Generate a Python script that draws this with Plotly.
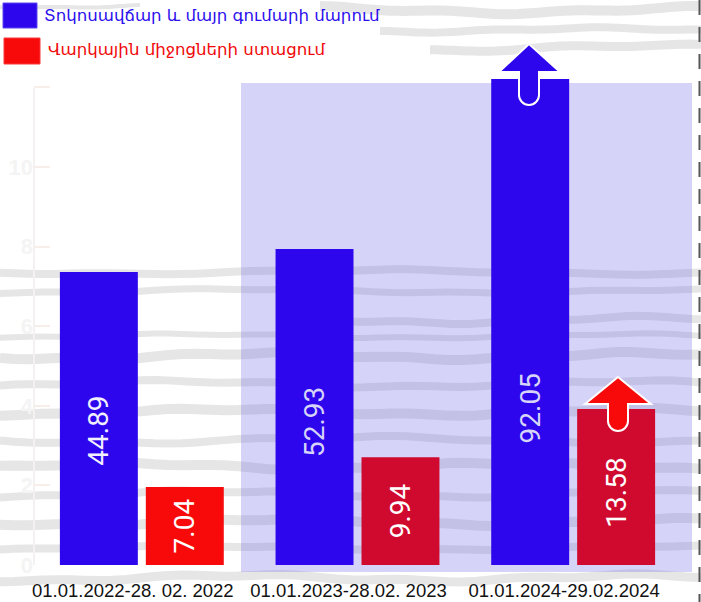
import math
import plotly.graph_objects as go

# ---------------- data ----------------
periods = ["01.01.2022-28. 02. 2022", "01.01.2023-28.02. 2023", "01.01.2024-29.02.2024"]
repayment_values = [44.89, 52.93, 92.05]          # Տոկոսավճար և մայր գումարի մարում
received_values = [7.04, 9.94, 13.58]             # Վարկային միջոցների ստացում
repayment_heights = [7.36, 7.94, 12.21]           # bar heights as drawn (background axis units)
received_heights = [1.96, 2.71, 3.92]
axis_ticks = [0, 2, 4, 6, 8, 10, 12]
axis_ticktext = ["0", "2", "4", "6", "8", "10", ""]
legend_names = ["Տոկոսավճար և մայր գումարի մարում", "Վարկային միջոցների ստացում"]

# ---------------- layout helpers ----------------
W, H = 701, 602
L, R, T, B = 34, 681, 60, 565
PX_PER_UNIT = 39.8
YMAX = (B - T) / PX_PER_UNIT

def fx(x):
    return (x - L) / (R - L)

def fy(y):
    return (B - y) / (B - T)

BLUE = "#2D06EE"
RED = "#F80A0A"
CRIMSON = "#D0092F"
BARGAP = 0.203
BARGROUPGAP = 0.093
OFF = (1 - BARGAP) / 4

fig = go.Figure()
fig.add_bar(x=periods, y=repayment_heights, marker_color=BLUE, marker_line_width=0,
            showlegend=False, hoverinfo="skip")
fig.add_bar(x=periods, y=received_heights, marker_color=[RED, CRIMSON, CRIMSON],
            marker_line_width=0, showlegend=False, hoverinfo="skip")

shapes = []

# background texture (light grey streaks)
def band(y0, x0, x1, amp, period, phase, width, color="#e6e6e6"):
    pts = []
    n = 50
    for i in range(n + 1):
        x = x0 + (x1 - x0) * i / n
        y = y0 + amp * math.sin(2 * math.pi * x / period + phase) \
            + amp * 0.4 * math.sin(2 * math.pi * x / (period * 0.29) + phase * 1.7)
        pts.append((fx(x), fy(y)))
    path = "M " + " L ".join(f"{a:.4f},{b:.4f}" for a, b in pts)
    return dict(type="path", xref="paper", yref="paper", path=path, layer="below",
                line=dict(color=color, width=width))

bands = [
    (10, 320, 701, 3, 420, 0.3, 10), (30, 380, 701, 2, 380, 1.1, 8), (48, 430, 701, 3, 460, 2.0, 9),
    (6, 0, 140, 1.5, 300, 0.5, 4),
    (272, 0, 701, 2, 520, 0.2, 8), (291, 0, 701, 2, 470, 1.4, 7),
    (320, 300, 701, 3, 400, 0.9, 8), (336, 0, 701, 2, 430, 1.9, 6),
    (356, 0, 701, 3, 380, 0.4, 10), (384, 0, 701, 3, 450, 2.3, 8),
    (412, 0, 701, 3, 410, 1.2, 10), (440, 0, 701, 3, 500, 0.1, 8),
    (466, 0, 701, 3, 390, 2.8, 10), (494, 0, 701, 3, 440, 1.6, 8),
    (522, 0, 701, 3, 420, 0.6, 10), (548, 0, 701, 2, 480, 2.1, 8),
    (578, 0, 701, 3, 400, 1.0, 9),
]
for b in bands:
    shapes.append(band(*b))

# lavender highlight panel
shapes.append(dict(type="rect", xref="paper", yref="paper", layer="below",
                   x0=fx(241), x1=fx(692), y0=fy(83), y1=fy(572),
                   fillcolor="rgba(112,105,235,0.29)", line=dict(width=0)))
# faint background axis line
shapes.append(dict(type="line", xref="paper", yref="paper", layer="below",
                   x0=fx(34), x1=fx(34), y0=fy(88), y1=fy(565),
                   line=dict(color="#f5f1f0", width=2)))
# dashed line at right border
shapes.append(dict(type="line", xref="paper", yref="paper", layer="above",
                   x0=fx(699.5), x1=fx(699.5), y0=fy(0), y1=fy(602),
                   line=dict(color="#555555", width=2, dash="15px,12px")))

# arrows
def arrow(tipx, tipy, head_base_y, hl, hr, sl, sr, bottom, color):
    r = (sr - sl) / 2
    k = 0.5523 * r
    cx = (sl + sr) / 2
    by = bottom - r
    P = lambda x, y: f"{fx(x):.5f},{fy(y):.5f}"
    path = (f"M {P(sl, head_base_y)} L {P(hl, head_base_y)} L {P(tipx, tipy)} "
            f"L {P(hr, head_base_y)} L {P(sr, head_base_y)} L {P(sr, by)} "
            f"C {P(sr, by + k)} {P(cx + k, bottom)} {P(cx, bottom)} "
            f"C {P(cx - k, bottom)} {P(sl, by + k)} {P(sl, by)} Z")
    return dict(type="path", xref="paper", yref="paper", layer="above", path=path,
                fillcolor=color, line=dict(color="white", width=2))

shapes.append(arrow(529, 44, 72, 499, 560, 519, 539, 105, BLUE))
shapes.append(arrow(618, 377, 404, 585, 651, 608, 628, 431, RED))

# legend swatches
shapes.append(dict(type="rect", xref="paper", yref="paper", layer="above",
                   x0=fx(3), x1=fx(37), y0=fy(3), y1=fy(28),
                   fillcolor=BLUE, line=dict(color="#5a48f0", width=1)))
shapes.append(dict(type="rect", xref="paper", yref="paper", layer="above",
                   x0=fx(4), x1=fx(40), y0=fy(38), y1=fy(64),
                   fillcolor=RED, line=dict(color="#f83a3a", width=1)))

annotations = []
annotations.append(dict(xref="paper", yref="paper", x=fx(42), y=fy(16), xanchor="left",
                        yanchor="middle", text=legend_names[0], showarrow=False,
                        font=dict(family="DejaVu Sans", size=16.6, color="#2D10EE")))
annotations.append(dict(xref="paper", yref="paper", x=fx(46), y=fy(50), xanchor="left",
                        yanchor="middle", text=legend_names[1], showarrow=False,
                        font=dict(family="DejaVu Sans", size=16.6, color="#F00A0A")))

# value labels inside bars
repayment_label_y = [3.37, 3.58, 3.94]
received_label_y = [0.99, 1.36, 1.82]
repayment_label_color = ["#F2F0FF", "#D6D4F8", "#D6D4F8"]
for i, v in enumerate(repayment_values):
    annotations.append(dict(x=i - OFF, y=repayment_label_y[i], xref="x", yref="y",
                            text=f"{v:.2f}", showarrow=False, textangle=-90,
                            font=dict(family="Roboto", size=28, color=repayment_label_color[i])))
for i, v in enumerate(received_values):
    annotations.append(dict(x=i + OFF, y=received_label_y[i], xref="x", yref="y",
                            text=f"{v:.2f}", showarrow=False, textangle=-90,
                            font=dict(family="Roboto", size=28, color="#FFFFFF")))

fig.update_layout(
    width=W, height=H,
    margin=dict(l=L, r=W - R, t=T, b=H - B, pad=0, autoexpand=False),
    paper_bgcolor="white", plot_bgcolor="rgba(0,0,0,0)",
    barmode="group", bargap=BARGAP, bargroupgap=BARGROUPGAP,
    shapes=shapes, annotations=annotations, showlegend=False,
    xaxis=dict(range=[-0.5, 2.5], showgrid=False, zeroline=False, showline=False,
               automargin=False, ticks="", ticklabelshift=-9, ticklabelstandoff=12,
               tickfont=dict(family="Liberation Sans, Arial", size=18.5, color="#111111")),
    yaxis=dict(range=[0, YMAX], showgrid=False, zeroline=False, showline=False,
               automargin=False,
               tickmode="array", tickvals=axis_ticks, ticktext=axis_ticktext,
               ticks="inside", ticklen=16, tickwidth=2, tickcolor="#f7eeea",
               tickfont=dict(family="Liberation Sans, Arial", size=22, color="#f4f4f4",
                             weight="bold")),
)

fig.write_html("out.html", config={"displayModeBar": False},
               post_script="document.body.style.margin='0';document.body.style.overflow='hidden';")
